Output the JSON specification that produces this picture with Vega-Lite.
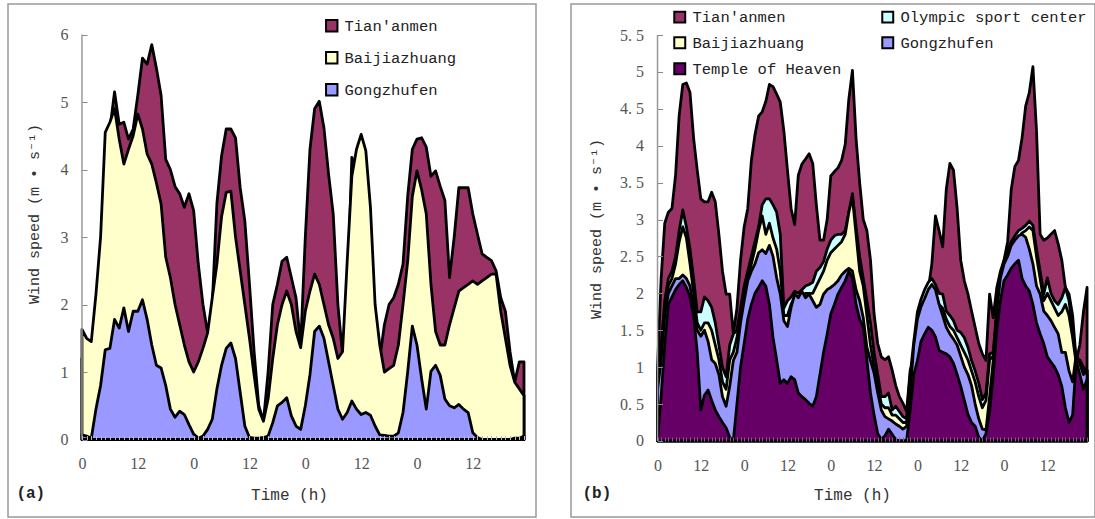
{
 "$schema": "https://vega.github.io/schema/vega-lite/v6.json",
 "background": "white",
 "padding": {"left": 7, "top": 3, "right": 0, "bottom": 0},
 "config": {"view": {"stroke": "#999999", "strokeWidth": 1.5}},
 "spacing": 33,
 "resolve": {"scale": {"color": "independent", "x": "independent", "y": "independent"}, "legend": {"color": "independent"}},
 "datasets": {
  "a": [
   {"h":0,"T":1.2,"B":1.63,"G":0.07},{"h":1,"T":1.2,"B":1.5,"G":0.05},{"h":2,"T":1.3,"B":1.45,"G":0.02},{"h":3,"T":1.6,"B":2.15,"G":0.45},
   {"h":4,"T":2.5,"B":3.0,"G":0.8},{"h":5,"T":4.0,"B":4.55,"G":1.33},{"h":6,"T":4.6,"B":4.7,"G":1.35},{"h":7,"T":5.15,"B":4.9,"G":1.78},
   {"h":8,"T":4.67,"B":4.45,"G":1.65},{"h":9,"T":4.7,"B":4.08,"G":1.95},{"h":10,"T":4.45,"B":4.3,"G":1.6},{"h":11,"T":4.6,"B":4.5,"G":1.9},
   {"h":12,"T":5.1,"B":4.82,"G":1.9},{"h":13,"T":5.65,"B":4.6,"G":2.07},{"h":14,"T":5.56,"B":4.23,"G":1.78},{"h":15,"T":5.85,"B":4.08,"G":1.4},
   {"h":16,"T":5.5,"B":3.8,"G":1.1},{"h":17,"T":5.1,"B":3.49,"G":1.06},{"h":18,"T":4.15,"B":2.7,"G":0.8},{"h":19,"T":4.0,"B":2.4,"G":0.45},
   {"h":20,"T":3.75,"B":2.0,"G":0.33},{"h":21,"T":3.64,"B":1.7,"G":0.42},{"h":22,"T":3.44,"B":1.4,"G":0.37},{"h":23,"T":3.64,"B":1.15,"G":0.22},
   {"h":24,"T":3.39,"B":1.0,"G":0.08},{"h":25,"T":2.6,"B":1.15,"G":0.02},{"h":26,"T":2.0,"B":1.35,"G":0.05},{"h":27,"T":1.58,"B":1.58,"G":0.15},
   {"h":28,"T":2.0,"B":2.1,"G":0.3},{"h":29,"T":3.5,"B":2.6,"G":0.75},{"h":30,"T":4.2,"B":3.3,"G":1.1},{"h":31,"T":4.6,"B":3.66,"G":1.35},
   {"h":32,"T":4.6,"B":3.68,"G":1.43},{"h":33,"T":4.47,"B":3.0,"G":1.2},{"h":34,"T":3.73,"B":2.5,"G":0.7},{"h":35,"T":3.24,"B":2.0,"G":0.2},
   {"h":36,"T":2.3,"B":1.5,"G":0.03},{"h":37,"T":1.3,"B":0.95,"G":0.02},{"h":38,"T":0.5,"B":0.45,"G":0.02},{"h":39,"T":0.27,"B":0.27,"G":0.03},
   {"h":40,"T":1.0,"B":0.6,"G":0.05},{"h":41,"T":2.0,"B":1.2,"G":0.25},{"h":42,"T":2.3,"B":1.7,"G":0.5},{"h":43,"T":2.64,"B":2.0,"G":0.55},
   {"h":44,"T":2.7,"B":2.2,"G":0.62},{"h":45,"T":2.4,"B":2.0,"G":0.35},{"h":46,"T":2.1,"B":1.6,"G":0.2},{"h":47,"T":1.4,"B":1.36,"G":0.15},
   {"h":48,"T":3.0,"B":1.9,"G":0.5},{"h":49,"T":4.3,"B":2.2,"G":0.96},{"h":50,"T":4.9,"B":2.45,"G":1.6},{"h":51,"T":5.01,"B":2.3,"G":1.68},
   {"h":52,"T":4.62,"B":2.0,"G":1.5},{"h":53,"T":3.93,"B":1.7,"G":1.15},{"h":54,"T":3.34,"B":1.5,"G":0.8},{"h":55,"T":2.0,"B":1.2,"G":0.45},
   {"h":56,"T":1.26,"B":1.3,"G":0.3},{"h":57,"T":2.0,"B":2.64,"G":0.4},{"h":58,"T":4.18,"B":3.9,"G":0.57},{"h":59,"T":4.0,"B":4.3,"G":0.45},
   {"h":60,"T":3.5,"B":4.52,"G":0.37},{"h":61,"T":2.8,"B":4.28,"G":0.4},{"h":62,"T":1.8,"B":3.44,"G":0.36},{"h":63,"T":1.3,"B":2.0,"G":0.2},
   {"h":64,"T":1.2,"B":1.4,"G":0.07},{"h":65,"T":1.7,"B":1.0,"G":0.06},{"h":66,"T":2.0,"B":1.05,"G":0.05},{"h":67,"T":2.1,"B":1.1,"G":0.05},
   {"h":68,"T":2.3,"B":1.4,"G":0.1},{"h":69,"T":2.6,"B":2.0,"G":0.4},{"h":70,"T":3.6,"B":2.64,"G":1.0},{"h":71,"T":4.3,"B":3.6,"G":1.68},
   {"h":72,"T":4.45,"B":3.98,"G":1.4},{"h":73,"T":4.47,"B":3.7,"G":0.9},{"h":74,"T":4.33,"B":3.34,"G":0.45},{"h":75,"T":3.9,"B":2.3,"G":1.01},
   {"h":76,"T":3.98,"B":1.6,"G":1.1},{"h":77,"T":3.75,"B":1.4,"G":0.95},{"h":78,"T":3.54,"B":1.4,"G":0.6},{"h":79,"T":2.4,"B":1.7,"G":0.5},
   {"h":80,"T":3.0,"B":1.95,"G":0.47},{"h":81,"T":3.73,"B":2.2,"G":0.52},{"h":82,"T":3.73,"B":2.25,"G":0.45},{"h":83,"T":3.73,"B":2.3,"G":0.4},
   {"h":84,"T":3.34,"B":2.35,"G":0.1},{"h":85,"T":3.04,"B":2.3,"G":0.03},{"h":86,"T":2.75,"B":2.35,"G":0.0},{"h":87,"T":2.7,"B":2.4,"G":0.0},
   {"h":88,"T":2.65,"B":2.45,"G":0.0},{"h":89,"T":2.5,"B":2.45,"G":0.0},{"h":90,"T":2.1,"B":1.9,"G":0.0},{"h":91,"T":1.9,"B":1.5,"G":0.0},
   {"h":92,"T":1.3,"B":1.1,"G":0.0},{"h":93,"T":0.85,"B":0.85,"G":0.02},{"h":94,"T":1.15,"B":0.75,"G":0.02},{"h":95,"T":1.15,"B":0.65,"G":0.05}
  ],
  "b": [
   {"h":0,"T":1.0,"O":0.9,"B":0.85,"G":0.7,"H":0.0},{"h":1,"T":2.2,"O":1.3,"B":1.2,"G":1.1,"H":0.6},{"h":2,"T":2.95,"O":1.9,"B":1.8,"G":1.7,"H":1.3},
   {"h":3,"T":3.1,"O":2.2,"B":2.1,"G":2.0,"H":1.85},{"h":4,"T":3.15,"O":2.3,"B":2.2,"G":2.1,"H":1.95},{"h":5,"T":3.6,"O":2.5,"B":2.4,"G":2.2,"H":2.05},
   {"h":6,"T":4.41,"O":2.85,"B":2.7,"G":2.2,"H":2.12},{"h":7,"T":4.83,"O":3.13,"B":2.9,"G":2.25,"H":2.17},{"h":8,"T":4.85,"O":2.9,"B":2.75,"G":2.2,"H":2.08},
   {"h":9,"T":4.72,"O":2.6,"B":2.4,"G":2.1,"H":1.95},{"h":10,"T":4.1,"O":2.2,"B":2.0,"G":1.8,"H":1.7},{"h":11,"T":3.67,"O":1.75,"B":1.6,"G":1.5,"H":1.2},
   {"h":12,"T":3.28,"O":1.75,"B":1.5,"G":1.42,"H":0.42},{"h":13,"T":3.24,"O":1.95,"B":1.6,"G":1.5,"H":0.62},{"h":14,"T":3.24,"O":1.9,"B":1.6,"G":1.35,"H":0.69},
   {"h":15,"T":3.37,"O":1.81,"B":1.5,"G":1.1,"H":0.55},{"h":16,"T":3.24,"O":1.6,"B":1.3,"G":1.05,"H":0.42},{"h":17,"T":2.8,"O":1.3,"B":1.1,"G":0.9,"H":0.33},
   {"h":18,"T":2.3,"O":1.0,"B":0.8,"G":0.6,"H":0.25},{"h":19,"T":1.99,"O":0.87,"B":0.7,"G":0.47,"H":0.18},{"h":20,"T":1.99,"O":1.3,"B":1.1,"G":0.74,"H":0.05},
   {"h":21,"T":1.45,"O":1.45,"B":1.2,"G":1.09,"H":0.0},{"h":22,"T":1.8,"O":1.5,"B":1.4,"G":1.2,"H":0.5},{"h":23,"T":2.45,"O":1.8,"B":1.7,"G":1.6,"H":1.0},
   {"h":24,"T":2.9,"O":2.1,"B":2.0,"G":1.9,"H":1.32},{"h":25,"T":3.15,"O":2.3,"B":2.2,"G":2.17,"H":1.65},{"h":26,"T":3.8,"O":2.5,"B":2.4,"G":2.3,"H":1.85},
   {"h":27,"T":4.15,"O":2.7,"B":2.6,"G":2.4,"H":2.0},{"h":28,"T":4.4,"O":2.9,"B":2.85,"G":2.55,"H":2.08},{"h":29,"T":4.46,"O":3.2,"B":3.05,"G":2.59,"H":2.17},
   {"h":30,"T":4.6,"O":3.28,"B":2.8,"G":2.54,"H":2.1},{"h":31,"T":4.83,"O":3.28,"B":2.95,"G":2.65,"H":1.85},{"h":32,"T":4.8,"O":3.2,"B":2.75,"G":2.5,"H":1.4},
   {"h":33,"T":4.7,"O":3.1,"B":2.6,"G":2.21,"H":1.1},{"h":34,"T":4.59,"O":2.8,"B":2.3,"G":1.99,"H":0.78},{"h":35,"T":4.2,"O":1.8,"B":1.7,"G":1.63,"H":0.83},
   {"h":36,"T":3.67,"O":1.9,"B":1.7,"G":1.55,"H":0.78},{"h":37,"T":3.15,"O":1.95,"B":1.85,"G":1.81,"H":0.87},{"h":38,"T":2.93,"O":2.03,"B":1.95,"G":1.99,"H":0.83},
   {"h":39,"T":3.6,"O":2.0,"B":1.9,"G":1.94,"H":0.65},{"h":40,"T":3.75,"O":2.05,"B":1.95,"G":2.03,"H":0.6},{"h":41,"T":3.82,"O":2.1,"B":2.0,"G":1.94,"H":0.56},
   {"h":42,"T":3.89,"O":2.12,"B":2.0,"G":1.99,"H":0.51},{"h":43,"T":3.76,"O":2.15,"B":2.0,"G":1.9,"H":0.47},{"h":44,"T":3.2,"O":2.3,"B":2.1,"G":1.81,"H":0.6},
   {"h":45,"T":2.72,"O":2.35,"B":2.2,"G":1.85,"H":0.9},{"h":46,"T":2.72,"O":2.43,"B":2.3,"G":1.99,"H":1.2},{"h":47,"T":3.0,"O":2.6,"B":2.45,"G":2.05,"H":1.45},
   {"h":48,"T":3.59,"O":2.72,"B":2.55,"G":2.08,"H":1.72},{"h":49,"T":3.65,"O":2.78,"B":2.6,"G":2.12,"H":1.85},{"h":50,"T":3.7,"O":2.8,"B":2.65,"G":2.17,"H":1.99},
   {"h":51,"T":3.8,"O":2.8,"B":2.7,"G":2.25,"H":2.08},{"h":52,"T":4.02,"O":2.85,"B":2.8,"G":2.3,"H":2.17},{"h":53,"T":4.63,"O":3.1,"B":3.1,"G":2.34,"H":2.3},
   {"h":54,"T":5.02,"O":3.35,"B":3.3,"G":2.3,"H":2.2},{"h":55,"T":4.1,"O":2.9,"B":2.8,"G":2.05,"H":1.85},{"h":56,"T":3.5,"O":2.5,"B":2.3,"G":1.9,"H":1.65},
   {"h":57,"T":3.0,"O":2.2,"B":2.1,"G":1.67,"H":1.54},{"h":58,"T":2.85,"O":1.9,"B":1.7,"G":1.27,"H":1.1},{"h":59,"T":2.45,"O":1.6,"B":1.3,"G":1.09,"H":0.65},
   {"h":60,"T":1.72,"O":1.2,"B":1.0,"G":0.92,"H":0.35},{"h":61,"T":1.32,"O":0.9,"B":0.75,"G":0.65,"H":0.1},{"h":62,"T":1.14,"O":0.6,"B":0.5,"G":0.42,"H":0.02},
   {"h":63,"T":1.1,"O":0.6,"B":0.45,"G":0.33,"H":0.07},{"h":64,"T":1.14,"O":0.65,"B":0.45,"G":0.3,"H":0.16},{"h":65,"T":0.96,"O":0.42,"B":0.35,"G":0.27,"H":0.09},
   {"h":66,"T":0.75,"O":0.47,"B":0.35,"G":0.23,"H":0.02},{"h":67,"T":0.6,"O":0.4,"B":0.3,"G":0.2,"H":0.0},{"h":68,"T":0.51,"O":0.33,"B":0.25,"G":0.16,"H":0.0},
   {"h":69,"T":0.4,"O":0.3,"B":0.25,"G":0.2,"H":0.0},{"h":70,"T":0.96,"O":0.9,"B":0.8,"G":0.65,"H":0.42},{"h":71,"T":1.09,"O":1.35,"B":1.25,"G":1.3,"H":0.9},
   {"h":72,"T":1.3,"O":1.75,"B":1.6,"G":1.65,"H":1.09},{"h":73,"T":1.5,"O":1.92,"B":1.8,"G":1.82,"H":1.35},{"h":74,"T":1.75,"O":2.05,"B":1.9,"G":1.93,"H":1.45},
   {"h":75,"T":2.05,"O":2.15,"B":2.0,"G":2.05,"H":1.54},{"h":76,"T":2.4,"O":2.2,"B":2.08,"G":2.12,"H":1.5},{"h":77,"T":3.05,"O":2.12,"B":2.0,"G":2.05,"H":1.41},
   {"h":78,"T":2.85,"O":2.0,"B":1.85,"G":1.85,"H":1.23},{"h":79,"T":2.63,"O":1.99,"B":1.8,"G":1.7,"H":1.2},{"h":80,"T":3.41,"O":1.76,"B":1.65,"G":1.54,"H":1.18},
   {"h":81,"T":3.76,"O":1.7,"B":1.55,"G":1.45,"H":1.14},{"h":82,"T":3.67,"O":1.63,"B":1.5,"G":1.38,"H":1.05},{"h":83,"T":3.15,"O":1.5,"B":1.4,"G":1.3,"H":0.9},
   {"h":84,"T":2.45,"O":1.47,"B":1.3,"G":1.15,"H":0.74},{"h":85,"T":2.17,"O":1.4,"B":1.2,"G":1.0,"H":0.55},{"h":86,"T":1.99,"O":1.27,"B":1.1,"G":0.9,"H":0.36},
   {"h":87,"T":1.76,"O":1.09,"B":0.95,"G":0.75,"H":0.25},{"h":88,"T":1.54,"O":0.95,"B":0.8,"G":0.5,"H":0.2},{"h":89,"T":1.32,"O":0.78,"B":0.6,"G":0.3,"H":0.05},
   {"h":90,"T":1.18,"O":0.56,"B":0.45,"G":0.16,"H":0.0},{"h":91,"T":1.09,"O":0.65,"B":0.55,"G":0.15,"H":0.1},{"h":92,"T":1.99,"O":1.18,"B":1.1,"G":0.6,"H":0.4},
   {"h":93,"T":1.67,"O":1.2,"B":1.15,"G":1.09,"H":0.87},{"h":94,"T":2.08,"O":1.8,"B":1.7,"G":1.76,"H":1.5},{"h":95,"T":2.3,"O":2.25,"B":2.15,"G":2.21,"H":1.9},
   {"h":96,"T":2.45,"O":2.45,"B":2.35,"G":2.4,"H":2.17},{"h":97,"T":2.7,"O":2.58,"B":2.5,"G":2.5,"H":2.25},{"h":98,"T":3.41,"O":2.7,"B":2.62,"G":2.65,"H":2.34},
   {"h":99,"T":3.72,"O":2.78,"B":2.68,"G":2.72,"H":2.4},{"h":100,"T":3.8,"O":2.85,"B":2.75,"G":2.78,"H":2.45},{"h":101,"T":4.11,"O":2.88,"B":2.82,"G":2.8,"H":2.2},
   {"h":102,"T":4.54,"O":2.92,"B":2.85,"G":2.76,"H":2.1},{"h":103,"T":4.72,"O":2.98,"B":2.9,"G":2.6,"H":2.03},{"h":104,"T":5.07,"O":2.92,"B":2.85,"G":2.4,"H":1.85},
   {"h":105,"T":4.2,"O":2.6,"B":2.5,"G":2.1,"H":1.6},{"h":106,"T":2.8,"O":2.3,"B":2.2,"G":1.99,"H":1.45},{"h":107,"T":2.72,"O":1.99,"B":1.9,"G":1.76,"H":1.32},
   {"h":108,"T":2.75,"O":2.21,"B":2.0,"G":1.7,"H":1.14},{"h":109,"T":2.8,"O":2.0,"B":1.9,"G":1.63,"H":1.07},{"h":110,"T":2.85,"O":1.9,"B":1.8,"G":1.54,"H":1.0},
   {"h":111,"T":2.67,"O":1.85,"B":1.7,"G":1.45,"H":0.9},{"h":112,"T":2.45,"O":1.94,"B":1.75,"G":1.2,"H":0.74},{"h":113,"T":2.08,"O":2.08,"B":1.85,"G":1.2,"H":0.45},
   {"h":114,"T":1.99,"O":1.9,"B":1.7,"G":0.95,"H":0.25},{"h":115,"T":1.7,"O":1.5,"B":1.4,"G":0.8,"H":0.35},{"h":116,"T":1.09,"O":1.1,"B":1.05,"G":1.18,"H":1.09},
   {"h":117,"T":1.3,"O":1.1,"B":1.0,"G":1.05,"H":0.9},{"h":118,"T":1.75,"O":1.0,"B":0.95,"G":0.9,"H":0.7},{"h":119,"T":2.08,"O":0.95,"B":0.9,"G":0.96,"H":0.83}
  ]
 },
 "hconcat": [
  {
   "width": 528, "height": 513,
   "data": {"name": "a"},
   "resolve": {"axis": {"x": "independent"}},
   "layer": [
    {"mark": {"type": "area", "stroke": "black", "strokeWidth": 2.8, "strokeJoin": "round", "opacity": 1},
     "encoding": {
      "x": {"field": "h", "type": "quantitative", "scale": {"domain": [-15.9, 97.58], "nice": false, "zero": false},
       "axis": {"orient": "bottom", "values": [0,12,24,36,48,60,72,84], "offset": -77.5, "domain": false, "grid": false, "ticks": false,
        "labelExpr": "datum.value % 24 == 0 ? '0' : '12'", "labelOverlap": false, "labelFlush": false,
        "labelPadding": 16, "labelFont": "Liberation Serif, Times New Roman, DejaVu Serif, serif", "labelFontSize": 16, "labelColor": "#555555",
        "title": "Time (h)", "titleFont": "Liberation Mono, Courier New, DejaVu Sans Mono, monospace", "titleFontSize": 16, "titleFontWeight": "normal", "titleColor": "#333333",
        "titleX": 281, "titleY": 54.5, "titleBaseline": "middle"}},
      "y": {"field": "T", "type": "quantitative", "scale": {"domain": [-1.148, 6.452], "nice": false, "zero": false},
       "axis": {"values": [0,1,2,3,4,5,6], "format": "d", "offset": -74, "domain": false, "grid": false, "tickSize": -5, "tickColor": "#888888", "zindex": 1,
        "labelPadding": 19, "labelFont": "Liberation Serif, Times New Roman, DejaVu Serif, serif", "labelFontSize": 16, "labelColor": "#555555",
        "title": "Wind speed (m • s⁻¹)", "titleFont": "Liberation Mono, Courier New, DejaVu Sans Mono, monospace", "titleFontSize": 15, "titleFontWeight": "normal", "titleColor": "#333333",
        "titleX": -49, "titleY": 209.5, "titleAngle": -90, "titleBaseline": "middle", "titleAlign": "center"}},
      "y2": {"datum": 0},
      "color": {"datum": "Tian'anmen", "type": "nominal",
       "scale": {"domain": ["Tian'anmen", "Baijiazhuang", "Gongzhufen"], "range": ["#993366", "#FFFFCC", "#9999FF"]},
       "legend": {"title": null, "orient": "none", "legendX": 316, "legendY": 14, "padding": 0, "symbolType": "square", "symbolSize": 130,
        "symbolStrokeColor": "black", "symbolStrokeWidth": 2, "symbolOpacity": 1, "labelFont": "Liberation Mono, Courier New, DejaVu Sans Mono, monospace", "labelFontSize": 15.5, "labelColor": "#222222",
        "labelOffset": 5, "rowPadding": 12}}
     }},
    {"mark": {"type": "area", "stroke": "black", "strokeWidth": 2.8, "strokeJoin": "round", "opacity": 1},
     "encoding": {"x": {"field": "h", "type": "quantitative", "axis": null}, "y": {"field": "B", "type": "quantitative"}, "y2": {"datum": 0}, "color": {"datum": "Baijiazhuang", "type": "nominal"}}},
    {"mark": {"type": "area", "stroke": "black", "strokeWidth": 2.8, "strokeJoin": "round", "opacity": 1},
     "encoding": {"x": {"field": "h", "type": "quantitative",
       "axis": {"orient": "bottom", "values": [0,1,2,3,4,5,6,7,8,9,10,11,12,13,14,15,16,17,18,19,20,21,22,23,24,25,26,27,28,29,30,31,32,33,34,35,36,37,38,39,40,41,42,43,44,45,46,47,48,49,50,51,52,53,54,55,56,57,58,59,60,61,62,63,64,65,66,67,68,69,70,71,72,73,74,75,76,77,78,79,80,81,82,83,84,85,86,87,88,89,90,91,92,93,94,95],
        "offset": -77.5, "labels": false, "title": null, "domain": false, "grid": false, "tickSize": -4, "tickColor": "#b8b8c8", "tickWidth": 1, "zindex": 1}},
      "y": {"field": "G", "type": "quantitative"}, "y2": {"datum": 0}, "color": {"datum": "Gongzhufen", "type": "nominal"}}},
    {"data": {"values": [{}]}, "mark": {"type": "rule", "color": "#999999", "strokeWidth": 1.5},
     "encoding": {"x": {"datum": 0, "axis": null}, "y": {"datum": 0}, "y2": {"datum": 6}}},
    {"data": {"values": [{}]}, "mark": {"type": "text", "font": "Liberation Mono, Courier New, DejaVu Sans Mono, monospace", "fontSize": 16, "fontWeight": "bold", "color": "#222222"},
     "encoding": {"x": {"datum": -11, "axis": null}, "y": {"datum": -0.79}, "text": {"value": "(a)"}}}
   ]
  },
  {
   "width": 524, "height": 513,
   "data": {"name": "b"},
   "resolve": {"axis": {"x": "independent"}},
   "layer": [
    {"mark": {"type": "area", "stroke": "black", "strokeWidth": 2.8, "strokeJoin": "round", "opacity": 1},
     "encoding": {
      "x": {"field": "h", "type": "quantitative", "scale": {"domain": [-23.97, 121.2], "nice": false, "zero": false},
       "axis": {"orient": "bottom", "values": [0,12,24,36,48,60,72,84,96,108], "offset": -76, "domain": false, "grid": false, "ticks": false,
        "labelExpr": "datum.value % 24 == 0 ? '0' : '12'", "labelOverlap": false, "labelFlush": false,
        "labelPadding": 16, "labelFont": "Liberation Serif, Times New Roman, DejaVu Serif, serif", "labelFontSize": 16, "labelColor": "#555555",
        "title": "Time (h)", "titleFont": "Liberation Mono, Courier New, DejaVu Sans Mono, monospace", "titleFontSize": 16, "titleFontWeight": "normal", "titleColor": "#333333",
        "titleX": 281, "titleY": 53, "titleBaseline": "middle"}},
      "y": {"field": "T", "type": "quantitative", "scale": {"domain": [-1.03, 5.92], "nice": false, "zero": false},
       "axis": {"values": [0,0.5,1,1.5,2,2.5,3,3.5,4,4.5,5,5.5], "offset": -86.5, "domain": false, "grid": false, "tickSize": -5, "tickColor": "#888888", "zindex": 1,
        "labelExpr": "replace(format(datum.value, '.1~f'), '.', '. ')",
        "labelPadding": 19, "labelFont": "Liberation Serif, Times New Roman, DejaVu Serif, serif", "labelFontSize": 16, "labelColor": "#555555",
        "title": "Wind speed (m • s⁻¹)", "titleFont": "Liberation Mono, Courier New, DejaVu Sans Mono, monospace", "titleFontSize": 15, "titleFontWeight": "normal", "titleColor": "#333333",
        "titleX": -62, "titleY": 224.5, "titleAngle": -90, "titleBaseline": "middle", "titleAlign": "center"}},
      "y2": {"datum": 0},
      "color": {"datum": "Tian'anmen", "type": "nominal",
       "scale": {"domain": ["Tian'anmen", "Olympic sport center", "Baijiazhuang", "Gongzhufen", "Temple of Heaven"], "range": ["#993366", "#CCFFFF", "#FFFFCC", "#9999FF", "#660066"]},
       "legend": {"title": null, "orient": "none", "legendX": 101, "legendY": 5, "padding": 0, "columns": 2, "direction": "horizontal", "columnPadding": 36, "symbolType": "square", "symbolSize": 120,
        "symbolStrokeColor": "black", "symbolStrokeWidth": 2, "symbolOpacity": 1, "labelFont": "Liberation Mono, Courier New, DejaVu Sans Mono, monospace", "labelFontSize": 15.5, "labelColor": "#222222",
        "labelOffset": 5, "rowPadding": 6, "labelLimit": 300}}
     }},
    {"mark": {"type": "area", "stroke": "black", "strokeWidth": 2.8, "strokeJoin": "round", "opacity": 1},
     "encoding": {"x": {"field": "h", "type": "quantitative", "axis": null}, "y": {"field": "O", "type": "quantitative"}, "y2": {"datum": 0}, "color": {"datum": "Olympic sport center", "type": "nominal"}}},
    {"mark": {"type": "area", "stroke": "black", "strokeWidth": 2.8, "strokeJoin": "round", "opacity": 1},
     "encoding": {"x": {"field": "h", "type": "quantitative", "axis": null}, "y": {"field": "B", "type": "quantitative"}, "y2": {"datum": 0}, "color": {"datum": "Baijiazhuang", "type": "nominal"}}},
    {"mark": {"type": "area", "stroke": "black", "strokeWidth": 2.8, "strokeJoin": "round", "opacity": 1},
     "encoding": {"x": {"field": "h", "type": "quantitative", "axis": null}, "y": {"field": "G", "type": "quantitative"}, "y2": {"datum": 0}, "color": {"datum": "Gongzhufen", "type": "nominal"}}},
    {"mark": {"type": "area", "stroke": "black", "strokeWidth": 2.8, "strokeJoin": "round", "opacity": 1},
     "encoding": {"x": {"field": "h", "type": "quantitative",
       "axis": {"orient": "bottom", "values": [0,1,2,3,4,5,6,7,8,9,10,11,12,13,14,15,16,17,18,19,20,21,22,23,24,25,26,27,28,29,30,31,32,33,34,35,36,37,38,39,40,41,42,43,44,45,46,47,48,49,50,51,52,53,54,55,56,57,58,59,60,61,62,63,64,65,66,67,68,69,70,71,72,73,74,75,76,77,78,79,80,81,82,83,84,85,86,87,88,89,90,91,92,93,94,95,96,97,98,99,100,101,102,103,104,105,106,107,108,109,110,111,112,113,114,115,116,117,118,119],
        "offset": -76, "labels": false, "title": null, "domain": false, "grid": false, "tickSize": -4, "tickColor": "#8a5a8a", "tickWidth": 1, "zindex": 1}},
      "y": {"field": "H", "type": "quantitative"}, "y2": {"datum": 0}, "color": {"datum": "Temple of Heaven", "type": "nominal"}}},
    {"data": {"values": [{}]}, "mark": {"type": "rule", "color": "#999999", "strokeWidth": 1.5},
     "encoding": {"x": {"datum": 0, "axis": null}, "y": {"datum": 0}, "y2": {"datum": 5.5}}},
    {"data": {"values": [{}]}, "mark": {"type": "text", "font": "Liberation Mono, Courier New, DejaVu Sans Mono, monospace", "fontSize": 16, "fontWeight": "bold", "color": "#222222"},
     "encoding": {"x": {"datum": -16.8, "axis": null}, "y": {"datum": -0.7}, "text": {"value": "(b)"}}}
   ]
  }
 ]
}
